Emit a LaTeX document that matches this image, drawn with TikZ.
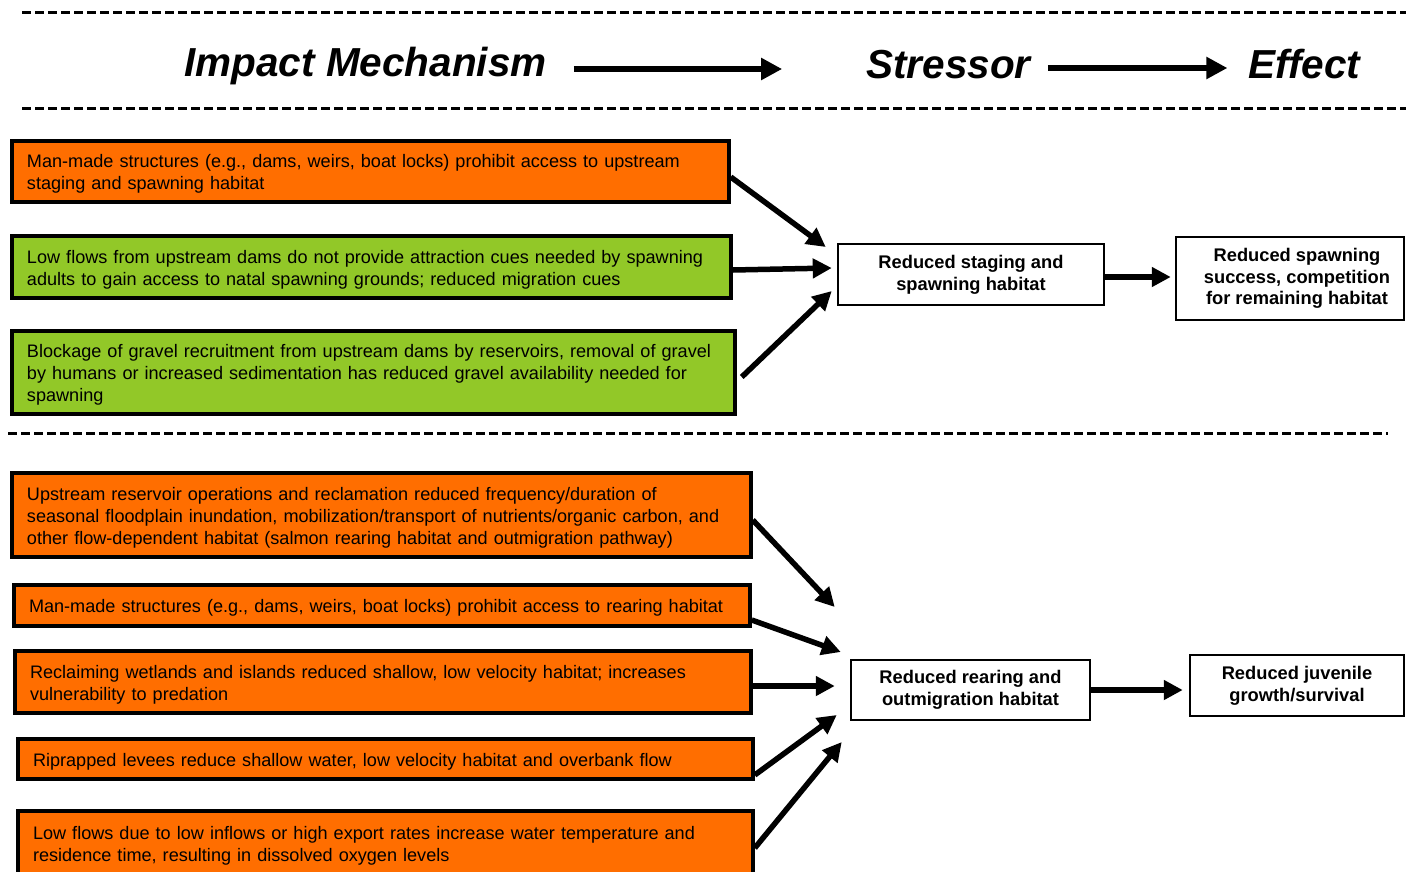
\documentclass[tikz,border=0pt]{standalone}
\usepackage{fontspec}
\setmainfont{Liberation Sans}
\usetikzlibrary{arrows.meta,calc}
\definecolor{mechorange}{RGB}{255,110,0}
\definecolor{mechgreen}{RGB}{146,200,40}

\begin{document}
\begin{tikzpicture}[x=1pt,y=-1pt,
  mech/.style={draw=black, line width=3.5pt, rectangle, inner xsep=15pt, inner ysep=0pt,
    align=left, text height=18pt, font=\fontsize{18.1}{22}\selectfont},
  orangebox/.style={mech, fill=mechorange},
  greenbox/.style={mech, fill=mechgreen},
  resultbox/.style={draw=black, line width=2.5pt, fill=white, rectangle, inner sep=0pt,
    align=center, font=\fontsize{18.3}{21.8}\selectfont\bfseries},
  header/.style={inner sep=0pt, anchor=base, font=\fontsize{40.5}{48}\selectfont\bfseries\itshape},
  separator/.style={line width=3pt, dash pattern=on 9pt off 4pt},
  conn/.style={line width=5.5pt, -{Triangle[length=19pt,width=19pt]}},
  headarrow/.style={line width=6pt, -{Triangle[length=21pt,width=21pt]}}
]
\useasboundingbox (0,0) rectangle (1406,871);
\clip (0,0) rectangle (1406,871);
\fill[white] (0,0) rectangle (1406,871);

% section separators
\draw[separator] (22,12) -- (1406,12);
\draw[separator] (22,108) -- (1406,108);
\draw[separator] (8,433) -- (1388,433);

% column headers
\node[header] (hIM) at (365.5,76) {Impact Mechanism};
\node[header] (hST) at (948.5,78) {Stressor};
\node[header] (hEF) at (1304.5,78) {Effect};
\draw[headarrow] ($(hIM.base east)+(27,-7)$) -- ($(hST.base west)+(-84,-9)$);
\draw[headarrow] ($(hST.base east)+(17,-10)$) -- ($(hEF.base west)+(-21,-10)$);

% spawning habitat mechanisms
\node[orangebox, text width=687pt, minimum height=61pt] (B1) at (370.5,171.5)
  {Man-made structures (e.g., dams, weirs, boat locks) prohibit access to upstream\\
   staging and spawning habitat};
\node[greenbox, text width=689pt, minimum height=62pt] (B2) at (371.5,267)
  {Low flows from upstream dams do not provide attraction cues needed by spawning\\
   adults to gain access to natal spawning grounds; reduced migration cues};
\node[greenbox, text width=693pt, minimum height=83pt] (B3) at (373.5,372.5)
  {Blockage of gravel recruitment from upstream dams by reservoirs, removal of gravel\\
   by humans or increased sedimentation has reduced gravel availability needed for\\
   spawning};

\node[resultbox, minimum width=266pt, minimum height=61pt] (S1) at (971,274.5)
  {Reduced staging and\\ spawning habitat};
\node[resultbox, minimum width=228pt, minimum height=83pt] (E1) at (1290,278.5)
  {\hspace*{14pt}Reduced spawning\\ \hspace*{14pt}success, competition\\ \hspace*{14pt}for remaining habitat};

\draw[conn] ($(B1.east)+(0,5.5)$) -- ($(S1.west)+(-11,-27.5)$);
\draw[conn] ($(B2.east)+(0,3)$) -- ($(S1.west)+(-5,-6.5)$);
\draw[conn] ($(B3.east)+(5,4.5)$) -- ($(S1.west)+(-5,16.5)$);
\draw[conn] ($(S1.east)+(0,2.5)$) -- ($(E1.west)+(-4,-1.5)$);

% rearing habitat mechanisms
\node[orangebox, text width=709pt, minimum height=84pt] (B4) at (381.5,515)
  {Upstream reservoir operations and reclamation reduced frequency/duration of\\
   seasonal floodplain inundation, mobilization/transport of nutrients/organic carbon, and\\
   other flow-dependent habitat (salmon rearing habitat and outmigration pathway)};
\node[orangebox, text width=706pt, minimum height=41pt] (B5) at (382,605.5)
  {Man-made structures (e.g., dams, weirs, boat locks) prohibit access to rearing habitat};
\node[orangebox, text width=706pt, minimum height=62pt] (B6) at (383,682)
  {Reclaiming wetlands and islands reduced shallow, low velocity habitat; increases\\
   vulnerability to predation};
\node[orangebox, text width=705pt, minimum height=40pt] (B7) at (385.5,759)
  {Riprapped levees reduce shallow water, low velocity habitat and overbank flow};
\node[orangebox, text width=705pt, minimum height=64pt] (B8) at (385.5,843)
  {Low flows due to low inflows or high export rates increase water temperature and\\
   residence time, resulting in dissolved oxygen levels};

\node[resultbox, minimum width=239pt, minimum height=60pt] (S2) at (970.5,690)
  {Reduced rearing and\\ outmigration habitat};
\node[resultbox, minimum width=214pt, minimum height=61pt] (E2) at (1297,685.5)
  {Reduced juvenile\\ growth/survival};

\draw[conn] ($(B4.east)+(0,5)$) -- ($(S2.west)+(-15,-83)$);
\draw[conn] ($(B5.east)+(0,14.5)$) -- ($(S2.west)+(-9,-38)$);
\draw[conn] ($(B6.east)+(0,4)$) -- ($(S2.west)+(-15,-4)$);
\draw[conn] ($(B7.east)+(0,16)$) -- ($(S2.west)+(-13,25)$);
\draw[conn] ($(B8.east)+(0,5)$) -- ($(S2.west)+(-8,52)$);
\draw[conn] (S2.east) -- ($(E2.west)+(-6,4.5)$);
\end{tikzpicture}
\end{document}
